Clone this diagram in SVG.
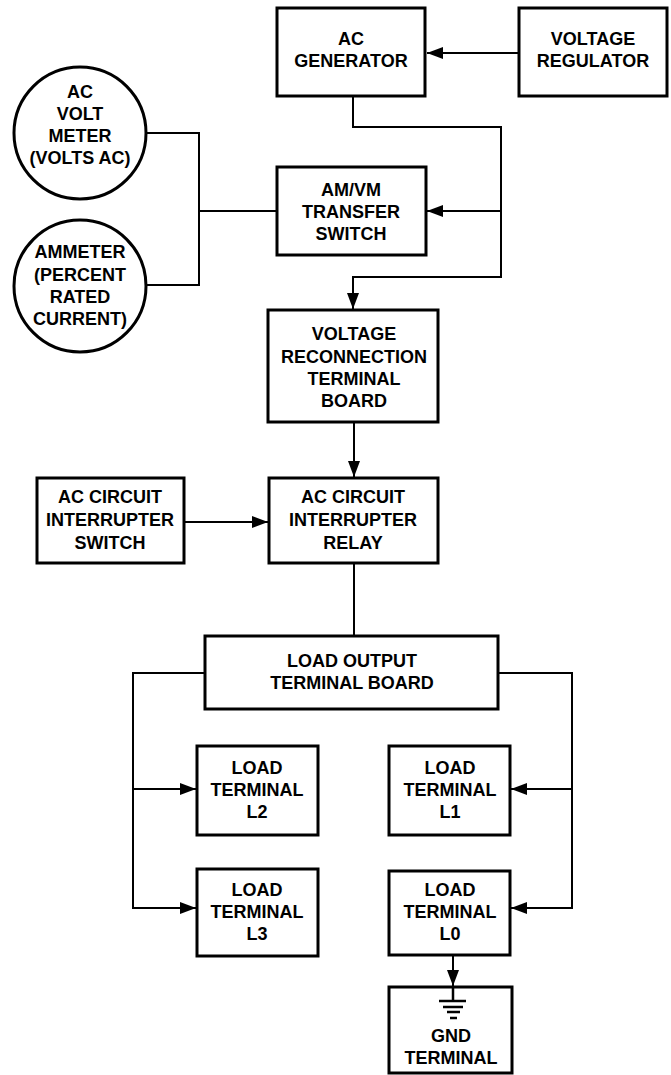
<svg xmlns="http://www.w3.org/2000/svg" width="671" height="1075" viewBox="0 0 671 1075">
<style>
.box{fill:#fff;stroke:#000;stroke-width:3}
.c{fill:none;stroke:#000;stroke-width:2}
.g{stroke:#000;stroke-width:2.5}
text{font-family:"Liberation Sans",Arial,sans-serif;font-weight:bold;font-size:18px;text-anchor:middle;fill:#000}
</style>
<defs>
<marker id="arr" viewBox="0 0 16 12" refX="16" refY="6" markerWidth="16" markerHeight="12" markerUnits="userSpaceOnUse" orient="auto">
<path d="M0,0 L16,6 L0,12 z" fill="#000"/>
</marker>
</defs>
<rect width="671" height="1075" fill="#fff"/>
<g id="connectors">
<path class="c" d="M519 53 H427" marker-end="url(#arr)"/>
<path class="c" d="M353 96 V127 H501 V277 H353 V309" marker-end="url(#arr)"/>
<path class="c" d="M501 211 H427" marker-end="url(#arr)"/>
<path class="c" d="M146 133 H199 V285 H146"/>
<path class="c" d="M199 211 H277"/>
<path class="c" d="M354 422 V477" marker-end="url(#arr)"/>
<path class="c" d="M184 522 H268" marker-end="url(#arr)"/>
<path class="c" d="M354 563 V636"/>
<path class="c" d="M205 673 H133 V908 H196" marker-end="url(#arr)"/>
<path class="c" d="M133 789 H196" marker-end="url(#arr)"/>
<path class="c" d="M498 673 H572 V908 H511" marker-end="url(#arr)"/>
<path class="c" d="M572 789 H511" marker-end="url(#arr)"/>
<path class="c" d="M453 955 V986" marker-end="url(#arr)"/>
</g>
<g id="ac-generator">
<rect class="box" x="277" y="8" width="148" height="88"/>
<text x="351" y="45">AC</text>
<text x="351" y="67">GENERATOR</text>
</g>
<g id="voltage-regulator">
<rect class="box" x="519" y="8" width="148" height="88"/>
<text x="593" y="45">VOLTAGE</text>
<text x="593" y="67">REGULATOR</text>
</g>
<g id="ac-volt-meter">
<circle class="box" cx="80" cy="133" r="66"/>
<text x="80" y="98">AC</text>
<text x="80" y="120">VOLT</text>
<text x="80" y="142">METER</text>
<text x="80" y="164">(VOLTS AC)</text>
</g>
<g id="ammeter">
<circle class="box" cx="80" cy="286" r="66"/>
<text x="80" y="258">AMMETER</text>
<text x="80" y="281">(PERCENT</text>
<text x="80" y="303">RATED</text>
<text x="80" y="325">CURRENT)</text>
</g>
<g id="am-vm-transfer-switch">
<rect class="box" x="277" y="167" width="149" height="88"/>
<text x="351" y="196">AM/VM</text>
<text x="351" y="218">TRANSFER</text>
<text x="351" y="240">SWITCH</text>
</g>
<g id="voltage-reconnection-terminal-board">
<rect class="box" x="268" y="310" width="170" height="112"/>
<text x="354" y="340">VOLTAGE</text>
<text x="354" y="363">RECONNECTION</text>
<text x="354" y="385">TERMINAL</text>
<text x="354" y="407">BOARD</text>
</g>
<g id="ac-circuit-interrupter-switch">
<rect class="box" x="37" y="478" width="147" height="85"/>
<text x="110" y="503">AC CIRCUIT</text>
<text x="110" y="526">INTERRUPTER</text>
<text x="110" y="549">SWITCH</text>
</g>
<g id="ac-circuit-interrupter-relay">
<rect class="box" x="269" y="478" width="169" height="85"/>
<text x="353" y="503">AC CIRCUIT</text>
<text x="353" y="526">INTERRUPTER</text>
<text x="353" y="549">RELAY</text>
</g>
<g id="load-output-terminal-board">
<rect class="box" x="205" y="636" width="293" height="73"/>
<text x="352" y="667">LOAD OUTPUT</text>
<text x="352" y="689">TERMINAL BOARD</text>
</g>
<g id="load-terminal-l2">
<rect class="box" x="197" y="746" width="121" height="89"/>
<text x="257" y="774">LOAD</text>
<text x="257" y="796">TERMINAL</text>
<text x="257" y="818">L2</text>
</g>
<g id="load-terminal-l1">
<rect class="box" x="389" y="746" width="121" height="89"/>
<text x="450" y="774">LOAD</text>
<text x="450" y="796">TERMINAL</text>
<text x="450" y="818">L1</text>
</g>
<g id="load-terminal-l3">
<rect class="box" x="197" y="869" width="121" height="87"/>
<text x="257" y="896">LOAD</text>
<text x="257" y="918">TERMINAL</text>
<text x="257" y="940">L3</text>
</g>
<g id="load-terminal-l0">
<rect class="box" x="389" y="871" width="121" height="84"/>
<text x="450" y="896">LOAD</text>
<text x="450" y="918">TERMINAL</text>
<text x="450" y="940">L0</text>
</g>
<g id="gnd-terminal">
<rect class="box" x="389" y="987" width="123" height="86"/>
<line class="g" x1="453" y1="987" x2="453" y2="1001"/>
<line class="g" x1="439" y1="1001" x2="466" y2="1001"/>
<line class="g" x1="443" y1="1007" x2="463" y2="1007"/>
<line class="g" x1="447" y1="1012" x2="460" y2="1012"/>
<line class="g" x1="450" y1="1018" x2="457" y2="1018"/>
<text x="451" y="1042">GND</text>
<text x="451" y="1064">TERMINAL</text>
</g>
</svg>
